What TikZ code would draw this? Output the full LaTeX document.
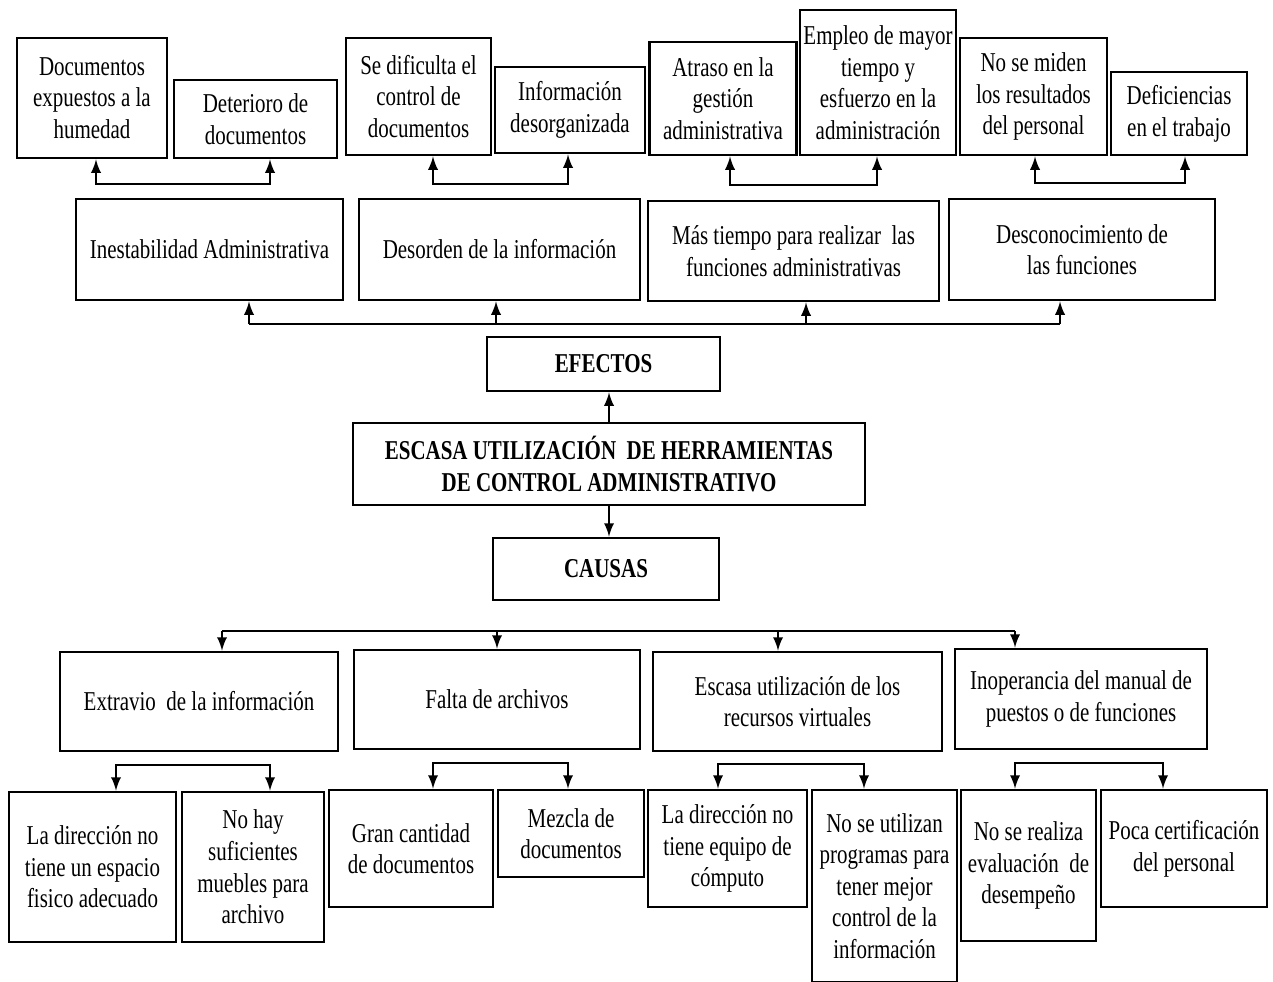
\documentclass[tikz,border=0pt]{standalone}
\usepackage{fontspec}
\setmainfont[FakeStretch=0.77]{Liberation Serif}

\begin{document}
\begin{tikzpicture}[x=0.02cm,y=-0.02cm,>=latex,line width=1.6pt,
		caja/.style 2 args={draw,align=center,inner sep=0pt,minimum width=#1cm,minimum height=#2cm,font=\fontsize{15.5}{18}\selectfont},
		negrita/.style={font=\fontsize{15.5}{18}\selectfont\bfseries}]
				\useasboundingbox (0,0) rectangle (1273,981);
				
				\node[caja={3.00}{2.40}] (e11) at (92,98) {Documentos\\expuestos a la\\humedad};
				\node[caja={3.26}{1.56}] (e12) at (255.5,119) {Deterioro de\\documentos};
				\node[caja={2.90}{2.34}] (e21) at (418.5,96.5) {Se dificulta el\\control de\\documentos};
				\node[caja={3.00}{1.72}] (e22) at (570,110) {Información\\desorganizada};
				\node[caja={2.94}{2.26}] (e31) at (723,98.5) {Atraso en la\\gestión\\administrativa};
				\node[caja={3.12}{2.90}] (e32) at (878,82.5) {Empleo de mayor\\tiempo y\\esfuerzo en la\\administración};
				\node[caja={2.94}{2.34}] (e41) at (1033.5,96.5) {No se miden\\los resultados\\del personal};
				\node[caja={2.72}{1.66}] (e42) at (1179,113.5) {Deficiencias\\en el trabajo};
				
				\node[caja={5.34}{2.02}] (e1) at (209.5,249.5) {Inestabilidad Administrativa};
				\node[caja={5.62}{2.02}] (e2) at (499.5,249.5) {Desorden de la información};
				\node[caja={5.82}{2.00}] (e3) at (793.5,251) {Más tiempo para realizar\ \ las\\funciones administrativas};
				\node[caja={5.32}{2.02}] (e4) at (1082,249.5) {Desconocimiento de\\las funciones};
				
				\node[caja={4.66}{1.08},negrita] (efectos) at (603.5,364) {EFECTOS};
				\node[caja={10.24}{1.64},negrita] (pb) at (609,464) {ESCASA UTILIZACIÓN\ \ DE HERRAMIENTAS\\DE CONTROL ADMINISTRATIVO};
				\node[caja={4.52}{1.24},negrita] (causas) at (606,569) {CAUSAS};
				
				\node[caja={5.56}{1.98}] (c1) at (199,701.5) {Extravio\ \ de la información};
				\node[caja={5.72}{1.98}] (c2) at (497,699.5) {Falta de archivos};
				\node[caja={5.78}{1.98}] (c3) at (797.5,701.5) {Escasa utilización de los\\recursos virtuales};
				\node[caja={5.04}{2.00}] (c4) at (1081,699) {Inoperancia del manual de\\puestos o de funciones};
				
				\node[caja={3.34}{3.00}] (c11) at (92.5,867) {La dirección no\\tiene un espacio\\fisico adecuado};
				\node[caja={2.84}{3.00}] (c12) at (253,867) {No hay\\suficientes\\muebles para\\archivo};
				\node[caja={3.28}{2.34}] (c21) at (411,848.5) {Gran cantidad\\de documentos};
				\node[caja={2.92}{1.74}] (c22) at (571,833.5) {Mezcla de\\documentos};
				\node[caja={3.18}{2.34}] (c31) at (727.5,848.5) {La dirección no\\tiene equipo de\\cómputo};
				\node[caja={2.90}{3.84}] (c32) at (884.5,886) {No se utilizan\\programas para\\tener mejor\\control de la\\información};
				\node[caja={2.70}{3.02}] (c41) at (1028.5,865.5) {No se realiza\\evaluación\ \ de\\desempeño};
				\node[caja={3.32}{2.34}] (c42) at (1184,848.5) {Poca certificación\\del personal};
				
				\foreach \n/\xa/\xb/\y in {1/96/270/184, 2/433/568/184, 3/730/877/185, 4/1035/1185/183}{
					\coordinate (l) at (\xa,\y);
					\coordinate (r) at (\xb,\y);
					\draw[<->] (l |- e\n1.south) -- (l) -- (r) -- (r |- e\n2.south);}
				
				\coordinate (eb1) at (249,324);
				\coordinate (eb2) at (496,324);
				\coordinate (eb3) at (806,324);
				\coordinate (eb4) at (1060,324);
				\draw (eb1) -- (eb4);
				\foreach \n in {1,...,4}{
					\draw[->] (eb\n) -- (eb\n |- e\n.south);}
				
				\draw[->] (pb.north) -- (pb.north |- efectos.south);
				\draw[->] (pb.south) -- (pb.south |- causas.north);
				
				\coordinate (cb1) at (222,631);
				\coordinate (cb2) at (497,631);
				\coordinate (cb3) at (778,631);
				\coordinate (cb4) at (1015,631);
				\draw (cb1) -- (cb4);
				\foreach \n in {1,...,4}{
					\draw[->] (cb\n) -- (cb\n |- c\n.north);}
				
				\foreach \n/\xa/\xb/\y in {1/116/270/765, 2/433/568/763, 3/718/864/764, 4/1015/1163/763}{
					\coordinate (l) at (\xa,\y);
					\coordinate (r) at (\xb,\y);
					\draw[<->] (l |- c\n1.north) -- (l) -- (r) -- (r |- c\n2.north);}
			\end{tikzpicture}
\end{document}
